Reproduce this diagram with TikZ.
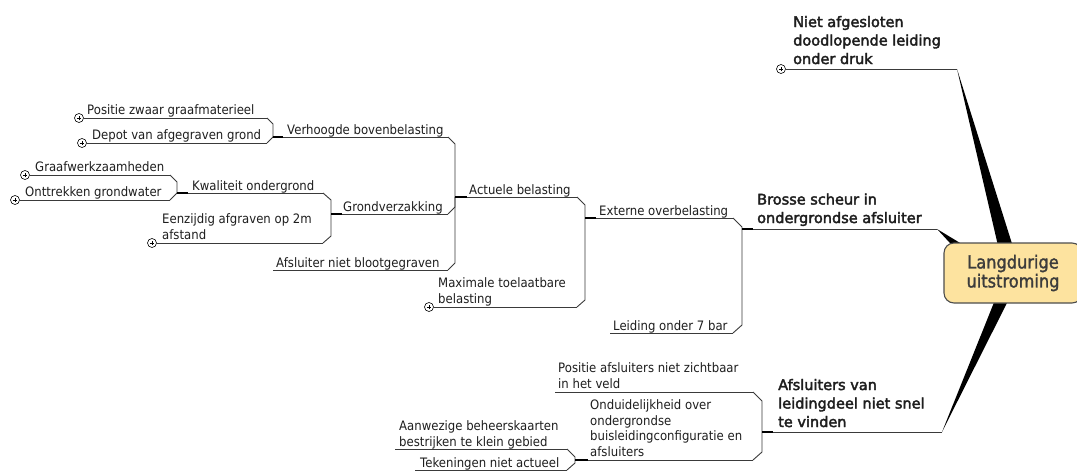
\documentclass[tikz,border=0pt]{standalone}
\usepackage{fontspec}
\setmainfont{DejaVu Sans}[FakeStretch=0.9]
\newfontfamily\semibold{DejaVu Sans}[FakeBold=2.6]
\newfontfamily\rootfont{DejaVu Sans}[FakeStretch=0.9,FakeBold=1.6]
\usetikzlibrary{backgrounds}
\definecolor{linec}{HTML}{3A3A3A}
\definecolor{txt}{HTML}{1E1E1E}
\definecolor{rootfill}{HTML}{FDE39F}
\definecolor{rootline}{HTML}{4D4D4D}
\definecolor{roottxt}{HTML}{3C3C3C}
\begin{document}
\begin{tikzpicture}[x=1pt,y=-1pt,
  topic/.style={anchor=base west, inner sep=0pt, align=left, text=txt,
    font=\fontsize{13}{15.5}\selectfont},
  main/.style={anchor=base west, inner sep=0pt, align=left, text=txt,
    font=\semibold\fontsize{14.5}{18.5}\selectfont},
  uline/.style={draw=linec, line width=0.9pt},
  mainline/.style={draw=linec, line width=1pt},
  stub/.style={draw=black, line width=1.5pt},
  wedge/.style={fill=black, draw=none},
  expander/.style={circle, draw=black, line width=0.6pt, minimum size=9pt,
    inner sep=0pt, fill=white,
    path picture={\draw[line width=0.6pt]
      ([xshift=-2.3pt]path picture bounding box.center) -- ([xshift=2.3pt]path picture bounding box.center)
      ([yshift=-2.3pt]path picture bounding box.center) -- ([yshift=2.3pt]path picture bounding box.center);}},
  rootbox/.style={rounded corners=10pt, draw=rootline, line width=1.1pt, fill=rootfill,
    minimum width=138pt, minimum height=60pt, align=center, text=roottxt,
    font=\rootfont\fontsize{18}{19}\selectfont}
]
\useasboundingbox (0,0) rectangle (1077,471);

% central topic
\node[rootbox] (root) at (1013,273) {Langdurige\\uitstroming};

% ---- main topic: Niet afgesloten ...
\node[expander] (t1-x) at (781,69) {};
\node[main] (t1) at (793,64) {Niet afgesloten\\doodlopende leiding\\onder druk};
\coordinate (t1-e) at (957,69);
\draw[mainline] (t1-x) -- (t1-e);

% ---- main topic: Brosse scheur ...
\node[main] (t2) at (757,223) {Brosse scheur in\\ondergrondse afsluiter};
\coordinate (t2-w) at (742,229);
\coordinate (t2-e) at (937,229);
\draw[mainline] (t2-w) -- (t2-e);

% ---- main topic: Afsluiters van ...
\node[main] (t3) at (778,427) {Afsluiters van\\leidingdeel niet snel\\te vinden};
\coordinate (t3-w) at (762,432);
\coordinate (t3-e) at (942,432);
\draw[mainline] (t3-w) -- (t3-e);

% tapered branches into the central topic
\coordinate (w1a) at (999,250);  \coordinate (w1b) at (1014,250);
\coordinate (w2a) at (975,252);  \coordinate (w2b) at (962,256);
\coordinate (w3a) at (997,295);  \coordinate (w3b) at (1011,295);
\begin{scope}[on background layer]
  \fill[wedge] (t1-e) -- (w1a) -- (w1b) -- cycle;
  \fill[wedge] (t2-e) -- (w2a) -- (w2b) -- cycle;
  \fill[wedge] (t3-e) -- (w3a) -- (w3b) -- cycle;
\end{scope}

% ---- subtopics of Brosse scheur
\node[topic] (eo) at (599,215) {Externe overbelasting};
\coordinate (eo-w) at (585,218);
\coordinate (eo-e) at (733,218);
\draw[uline] (eo-w) -- (eo-e);

\node[topic] (lo) at (613,330) {Leiding onder 7 bar};
\coordinate (lo-w) at (610,333);
\coordinate (lo-e) at (733,333);
\draw[uline] (lo-w) -- (lo-e);

\draw[uline] (eo-e) -- ++(9,9) |- (t2-w);
\draw[uline] (lo-e) -- ++(9,-8) |- (t2-w);
\draw[stub] (t2-w) -- ++(11,0);

% ---- subtopics of Externe overbelasting
\node[topic] (ab) at (469,194) {Actuele belasting};
\coordinate (ab-w) at (455,197);
\coordinate (ab-e) at (577,197);
\draw[uline] (ab-w) -- (ab-e);

\node[expander] (mx-x) at (429,307) {};
\node[topic] (mx) at (438,303) {Maximale toelaatbare\\belasting};
\coordinate (mx-e) at (577,307);
\draw[uline] (mx-x) -- (mx-e);

\draw[uline] (ab-e) -- ++(8,8) |- (eo-w);
\draw[uline] (mx-e) -- ++(8,-7) |- (eo-w);
\draw[stub] (eo-w) -- ++(11,0);

% ---- subtopics of Actuele belasting
\node[topic] (vb) at (287,134) {Verhoogde bovenbelasting};
\coordinate (vb-w) at (273,137);
\coordinate (vb-e) at (448,137);
\draw[uline] (vb-w) -- (vb-e);

\node[topic] (gv) at (343,211) {Grondverzakking};
\coordinate (gv-w) at (331,214);
\coordinate (gv-e) at (448,214);
\draw[uline] (gv-w) -- (gv-e);

\node[topic] (an) at (276,267) {Afsluiter niet blootgegraven};
\coordinate (an-w) at (273,270);
\coordinate (an-e) at (448,270);
\draw[uline] (an-w) -- (an-e);

\draw[uline] (vb-e) -- ++(7,7) |- (ab-w);
\draw[uline] (gv-e) -- ++(7,-7) |- (ab-w);
\draw[uline] (an-e) -- ++(7,-7) |- (ab-w);
\draw[stub] (ab-w) -- ++(12,0);

% ---- subtopics of Verhoogde bovenbelasting
\node[expander] (ps-x) at (79,118) {};
\node[topic] (ps) at (87,114.5) {Positie zwaar graafmaterieel};
\coordinate (ps-e) at (267,118);
\draw[uline] (ps-x) -- (ps-e);

\node[expander] (dp-x) at (82,143) {};
\node[topic] (dp) at (92,139.5) {Depot van afgegraven grond};
\coordinate (dp-e) at (267,143);
\draw[uline] (dp-x) -- (dp-e);

\draw[uline] (ps-e) -- ++(6,6) |- (vb-w);
\draw[uline] (dp-e) -- ++(6,-6) |- (vb-w);
\draw[stub] (vb-w) -- ++(10,0);

% ---- subtopics of Grondverzakking
\node[topic] (kw) at (192,190) {Kwaliteit ondergrond};
\coordinate (kw-w) at (177,193);
\coordinate (kw-e) at (323,193);
\draw[uline] (kw-w) -- (kw-e);

\node[expander] (ez-x) at (152,243) {};
\node[topic] (ez) at (162,239) {Eenzijdig afgraven op 2m\\afstand};
\coordinate (ez-e) at (323,243);
\draw[uline] (ez-x) -- (ez-e);

\draw[uline] (kw-e) -- ++(8,7) |- (gv-w);
\draw[uline] (ez-e) -- ++(8,-7) |- (gv-w);
\draw[stub] (gv-w) -- ++(11,0);

% ---- subtopics of Kwaliteit ondergrond
\node[expander] (gw-x) at (25,175) {};
\node[topic] (gw) at (35,171.5) {Graafwerkzaamheden};
\coordinate (gw-e) at (170,175);
\draw[uline] (gw-x) -- (gw-e);

\node[expander] (ot-x) at (15,200) {};
\node[topic] (ot) at (25,196.5) {Onttrekken grondwater};
\coordinate (ot-e) at (170,200);
\draw[uline] (ot-x) -- (ot-e);

\draw[uline] (gw-e) -- ++(7,7) |- (kw-w);
\draw[uline] (ot-e) -- ++(7,-7) |- (kw-w);
\draw[stub] (kw-w) -- ++(11,0);

% ---- subtopics of Afsluiters van leidingdeel
\node[topic] (pa) at (558,388) {Positie afsluiters niet zichtbaar\\in het veld};
\coordinate (pa-w) at (555,392);
\coordinate (pa-e) at (753,392);
\draw[uline] (pa-w) -- (pa-e);

\node[topic] (on) at (590,456) {Onduidelijkheid over\\ondergrondse\\buisleidingconfiguratie en\\afsluiters};
\coordinate (on-w) at (575,460);
\coordinate (on-e) at (753,460);
\draw[uline] (on-w) -- (on-e);

\draw[uline] (pa-e) -- ++(9,9) |- (t3-w);
\draw[uline] (on-e) -- ++(9,-8) |- (t3-w);
\draw[stub] (t3-w) -- ++(11,0);

% ---- subtopics of Onduidelijkheid
\node[topic] (aw) at (399,446) {Aanwezige beheerskaarten\\bestrijken te klein gebied};
\coordinate (aw-w) at (395,449);
\coordinate (aw-e) at (567,449);
\draw[uline] (aw-w) -- (aw-e);

\node[topic] (tk) at (420,467) {Tekeningen niet actueel};
\coordinate (tk-w) at (415,470);
\coordinate (tk-e) at (567,470);
\draw[uline] (tk-w) -- (tk-e);

\draw[uline] (aw-e) -- ++(8,8) |- (on-w);
\draw[uline] (tk-e) -- ++(8,-7) |- (on-w);
\draw[stub] (on-w) -- ++(13,0);
\end{tikzpicture}
\end{document}
